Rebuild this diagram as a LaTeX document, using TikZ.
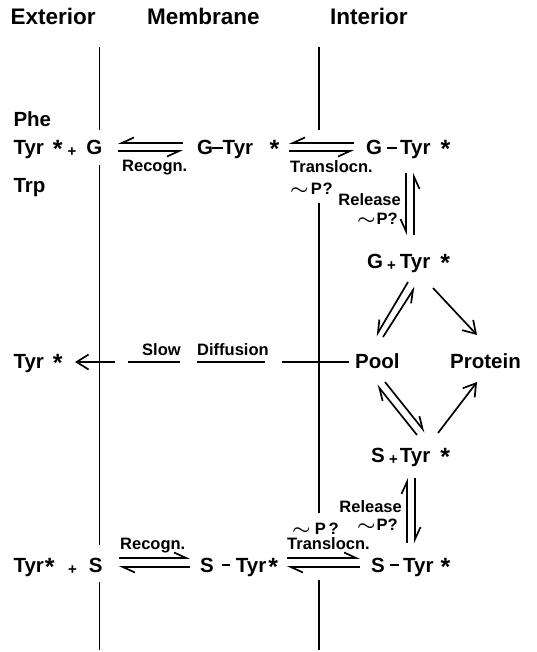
\documentclass[tikz,border=0pt]{standalone}
\usepackage{fontspec}
\setmainfont{Liberation Sans}
\usetikzlibrary{arrows.meta}
% small lowered plus, heavy asterisk, bar-like dash, wide swung dash
\newcommand\plus{\raisebox{-2pt}{\fontsize{15}{15}\selectfont +}}
\newcommand\stx{\raisebox{-3pt}{\fontsize{25}{25}\selectfont *}}
\newcommand\dsh[1]{\rule[6pt]{#1pt}{2.2pt}}
\newcommand\tld{\scalebox{1.2}[1]{\boldmath$\sim$}}
\begin{document}
\begin{tikzpicture}[x=1pt,y=-1pt,
  hdr/.style={font=\fontsize{22.5}{27}\selectfont\bfseries, inner sep=0, anchor=base west},
  lab/.style={font=\fontsize{20.5}{24}\selectfont\bfseries, inner sep=0, anchor=base west},
  sm/.style={font=\fontsize{16.5}{20}\selectfont\bfseries, inner sep=0, anchor=base west},
  smr/.style={sm, anchor=base east},
  wall/.style={line width=1.7pt},
  hp/.style={line width=1.7pt, -{Straight Barb[harpoon,length=12pt,width=11pt]}},
  hps/.style={line width=1.7pt, -{Straight Barb[harpoon,swap,length=12pt,width=11pt]}},
  arr/.style={line width=1.7pt, -{Straight Barb[length=12pt,width=15pt]}}
]
\useasboundingbox (0,0) rectangle (536,652);

% column headings
\node[hdr] (hext) at (10.3,25) {Exterior};
\node[hdr] (hmem) at (147,25) {Membrane};
\node[hdr] (hint) at (330,25) {Interior};

% membrane boundaries
\draw[wall] (99.5,47) -- (99.5,130) (99.5,165) -- (99.5,545) (99.5,582) -- (99.5,650);
\draw[wall] (319,47) -- (319,130) (319,203) -- (319,513) (319,580) -- (319,650);

% species
\node[lab] (phe) at (13.3,127) {Phe};
\node[lab] (trp) at (13.3,193) {Trp};
\node[lab] (gext) at (13.3,155) {Tyr\kern9pt\stx\kern5pt\plus\kern10pt G};
\node[lab] (gmem) at (197,155) {G\kern-1pt\dsh{10.6}Tyr\kern16.6pt\stx};
\node[lab] (gint) at (366,155) {G\kern5pt\dsh{10}\kern3pt Tyr\kern10pt\stx};
\node[lab] (gfree) at (367,268) {G\kern4pt\plus\kern4pt Tyr\kern10pt\stx};
\node[lab] (tyrm) at (13.3,368) {Tyr\kern9pt\stx};
\node[lab] (pool) at (355,368) {Pool};
\node[lab] (prot) at (450,368) {Protein};
\node[lab] (sfree) at (371,462) {S\kern4.3pt\plus\kern2pt Tyr\kern10pt\stx};
\node[lab] (sext) at (13.3,572) {Tyr\kern1pt\stx\kern13.6pt\plus\kern12pt S};
\node[lab] (smem) at (200,572) {S\kern8pt\dsh{8}\kern6pt Tyr\kern2pt\stx};
\node[lab] (sint) at (371,572) {S\kern5.3pt\dsh{8.5}\kern4.5pt Tyr\kern7pt\stx};

% step labels
\node[sm] (recA) at (122,172) {Recogn.};
\node[sm] (trA) at (290,173) {Translocn.};
\node[sm] (pA) at (290,195) {\tld\kern2pt P\kern1pt?};
\node[smr] (relA) at (401,206) {Release};
\node[smr] (prA) at (398,224) {\tld\kern1pt P?};
\node[smr] (relB) at (402,512) {Release};
\node[smr] (prB) at (398,530) {\tld\kern1pt P?};
\node[sm] (pB) at (292,534) {\tld\kern4pt P\kern3pt?};
\node[sm] (trB) at (287,549) {Translocn.};
\node[sm] (recB) at (120,549) {Recogn.};
\node[sm] (slow) at (142,355) {Slow};
\node[sm] (diff) at (197,355) {Diffusion};

% end points of the reaction arrows
\coordinate (a1) at (118,143); \coordinate (a2) at (183,143);
\coordinate (a3) at (118,151); \coordinate (a4) at (183,151);
\coordinate (b1) at (289,143); \coordinate (b2) at (354,143);
\coordinate (b3) at (289,151); \coordinate (b4) at (354,151);
\coordinate (c1) at (119,558); \coordinate (c2) at (190,558);
\coordinate (c3) at (119,567); \coordinate (c4) at (190,567);
\coordinate (d1) at (287,558); \coordinate (d2) at (360,558);
\coordinate (d3) at (287,567); \coordinate (d4) at (360,567);
\coordinate (e1) at (406,173); \coordinate (e2) at (406,235);
\coordinate (e3) at (414,173); \coordinate (e4) at (414,235);
\coordinate (f1) at (407,478); \coordinate (f2) at (407,543);
\coordinate (f3) at (415,478); \coordinate (f4) at (415,543);
\coordinate (g1) at (408,282); \coordinate (g2) at (376,336);
\coordinate (g3) at (383,337); \coordinate (g4) at (415,287);
\coordinate (h1) at (417,435); \coordinate (h2) at (377,385);
\coordinate (h3) at (385,382); \coordinate (h4) at (425,432);
\coordinate (p1) at (433,288); \coordinate (p2) at (477,335);
\coordinate (p3) at (438,433); \coordinate (p4) at (477,382);
\coordinate (df1) at (349,362); \coordinate (df2) at (75,362);

% recognition and translocation, glucose system
\draw[hps] (a2) -- (a1);
\draw[hps] (a3) -- (a4);
\draw[hps] (b2) -- (b1);
\draw[hps] (b3) -- (b4);
% recognition and translocation, sucrose system
\draw[hp] (c1) -- (c2);
\draw[hp] (c4) -- (c3);
\draw[hp] (d1) -- (d2);
\draw[hp] (d4) -- (d3);
% release steps
\draw[hps] (e1) -- (e2);
\draw[hps] (e4) -- (e3);
\draw[hp] (f2) -- (f1);
\draw[hp] (f3) -- (f4);
% exchange with the pool
\draw[hps] (g1) -- (g2);
\draw[hps] (g3) -- (g4);
\draw[hp] (h1) -- (h2);
\draw[hp] (h3) -- (h4);
% incorporation into protein
\draw[arr] (p1) -- (p2);
\draw[arr] (p3) -- (p4);
% slow leak back out
\draw[arr, dash pattern=on 67pt off 17pt on 68pt off 17.5pt on 51.5pt off 13pt on 60pt] (df1) -- (df2);
\end{tikzpicture}
\end{document}
